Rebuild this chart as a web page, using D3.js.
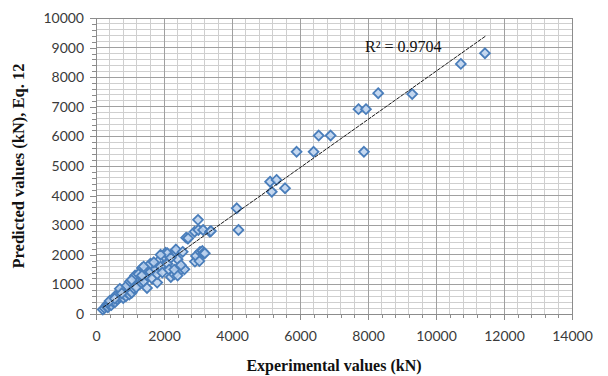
<!DOCTYPE html>
<html><head><meta charset="utf-8">
<script src="https://cdn.jsdelivr.net/npm/d3@7"></script>
<style>
html,body{margin:0;padding:0;background:#fff;}
svg{display:block;}
</style></head>
<body>
<svg id="chart" width="608" height="376"></svg>
<script>
// Data (experimental kN, predicted kN)
const experimental = [200,250,300,330,350,380,420,450,480,500,520,560,600,620,650,680,700,720,750,780,800,820,850,880,900,950,980,1000,1020,1050,1100,1120,1150,1200,1250,1300,1300,1350,1380,1400,1450,1500,1500,1550,1600,1650,1700,1750,1800,1800,1850,1900,1950,2000,2050,2100,2150,2200,2250,2300,2320,2350,2400,2450,2500,2550,2600,2650,2700,2710,2900,2910,2940,3000,3010,3040,3060,3130,3150,3160,3200,3350,3380,4140,4190,5120,5170,5310,5560,5900,6400,6550,6900,7720,7880,7940,8300,9300,10730,11440,
  900,1150,1250,1600,1700,2100,2200,2400,1400,1000,700,560,1900,2300,2500,400,550,760,1050,1180,1350];
const predicted = [150,200,260,330,230,320,380,300,450,420,480,400,560,500,620,700,580,700,650,760,540,680,820,600,740,880,660,800,950,720,1000,860,1080,940,1180,1020,1400,1550,1250,1100,1480,1300,880,1620,1420,1200,1700,1520,1060,1350,1800,1600,1400,1950,2070,1700,1500,1250,2000,1340,2100,2180,1850,1600,1500,2100,1510,2580,2550,2560,2780,1770,1960,3180,2840,1790,2100,2130,2840,2050,2050,2780,2800,3570,2840,4470,4130,4530,4250,5480,5480,6030,6030,6920,5480,6920,7460,7430,8450,8810,
  950,1300,1350,1700,1750,2050,1900,1300,1600,1100,850,600,2000,1500,1650,440,520,700,1150,900,1300];
// Linear trendline endpoints (Excel linear fit) and its R²
const trendX = [200, 11460];
const trendY = [218, 9390];
const r2Label = "R² = 0.9704";
const xTicks = [0,2000,4000,6000,8000,10000,12000,14000];
const yTicks = [0,1000,2000,3000,4000,5000,6000,7000,8000,9000,10000];
const xTitle = "Experimental values (kN)";
const yTitle = "Predicted values (kN), Eq. 12";

const svg = d3.select("#chart");
const x = d3.scaleLinear().domain([0,14000]).range([96,572]);
const y = d3.scaleLinear().domain([0,10000]).range([314,18]);

// minor grid
const g = svg.append("g");
g.selectAll("line.vmin").data(d3.range(0,14001,400)).join("line")
  .attr("x1",d=>x(d)).attr("x2",d=>x(d)).attr("y1",y(0)).attr("y2",y(10000))
  .attr("stroke","#cfcfcf").attr("stroke-width",1).attr("shape-rendering","crispEdges");
g.selectAll("line.hmin").data(d3.range(0,10001,200)).join("line")
  .attr("x1",x(0)).attr("x2",x(14000)).attr("y1",d=>y(d)).attr("y2",d=>y(d))
  .attr("stroke","#cfcfcf").attr("stroke-width",1).attr("shape-rendering","crispEdges");
// major grid
g.selectAll("line.vmaj").data(xTicks).join("line")
  .attr("x1",d=>x(d)).attr("x2",d=>x(d)).attr("y1",y(0)).attr("y2",y(10000))
  .attr("stroke","#a0a0a0").attr("stroke-width",1).attr("shape-rendering","crispEdges");
g.selectAll("line.hmaj").data(yTicks).join("line")
  .attr("x1",x(0)).attr("x2",x(14000)).attr("y1",d=>y(d)).attr("y2",d=>y(d))
  .attr("stroke","#a0a0a0").attr("stroke-width",1).attr("shape-rendering","crispEdges");

// axes
const xAxisMinor = d3.axisBottom(x).tickValues(d3.range(0,14001,400)).tickSize(4).tickFormat("");
svg.append("g").attr("transform",`translate(0,${y(0)})`).call(xAxisMinor)
  .call(s=>s.selectAll("line,path").attr("stroke","#8c8c8c").attr("shape-rendering","crispEdges"));
const yAxisMinor = d3.axisLeft(y).tickValues(d3.range(0,10001,200)).tickSize(4).tickFormat("");
svg.append("g").attr("transform",`translate(${x(0)},0)`).call(yAxisMinor)
  .call(s=>s.selectAll("line,path").attr("stroke","#8c8c8c").attr("shape-rendering","crispEdges"));
const xAxis = d3.axisBottom(x).tickValues(xTicks).tickSize(6).tickPadding(11).tickFormat(d3.format("d"));
svg.append("g").attr("transform",`translate(0,${y(0)})`).call(xAxis)
  .call(s=>{s.select(".domain").remove();
    s.selectAll("line").attr("stroke","#8c8c8c").attr("shape-rendering","crispEdges");
    s.selectAll("text").attr("font-family","Lato, 'Open Sans', sans-serif").attr("font-size",14).attr("fill","#3a3a3a");});
const yAxis = d3.axisLeft(y).tickValues(yTicks).tickSize(6).tickPadding(6).tickFormat(d3.format("d"));
svg.append("g").attr("transform",`translate(${x(0)},0)`).call(yAxis)
  .call(s=>{s.select(".domain").remove();
    s.selectAll("line").attr("stroke","#8c8c8c").attr("shape-rendering","crispEdges");
    s.selectAll("text").attr("font-family","Lato, 'Open Sans', sans-serif").attr("font-size",14).attr("fill","#3a3a3a");});
// plot border
svg.append("rect").attr("x",x(0)).attr("y",y(10000)).attr("width",x(14000)-x(0)).attr("height",y(0)-y(10000))
  .attr("fill","none").attr("stroke","#8c8c8c").attr("shape-rendering","crispEdges");

// points
const pts = experimental.map((e,i)=>({e, p: predicted[i]}));
const diamond = d3.symbol().type(d3.symbolDiamond2).size(62);
svg.append("g").selectAll("path").data(pts).join("path")
  .attr("d",diamond)
  .attr("transform",d=>`translate(${x(d.e)},${y(d.p)})`)
  .attr("fill","#bcd2ee").attr("fill-opacity",0.85)
  .attr("stroke","#4a7ebb").attr("stroke-width",1.8);

// trendline
svg.append("line")
  .attr("x1",x(trendX[0])).attr("y1",y(trendY[0]))
  .attr("x2",x(trendX[1])).attr("y2",y(trendY[1]))
  .attr("stroke","#1a1a1a").attr("stroke-width",1).attr("stroke-dasharray","4,1");

// R² label
svg.append("text").attr("x",365).attr("y",52)
  .attr("font-family","'Liberation Serif', 'Times New Roman', serif").attr("font-size",16).attr("fill","#111")
  .text(r2Label);

// titles
svg.append("text").attr("x",(x(0)+x(14000))/2).attr("y",371).attr("text-anchor","middle")
  .attr("font-family","'Liberation Serif', 'Times New Roman', serif").attr("font-weight","bold").attr("font-size",16).attr("fill","#111")
  .text(xTitle);
svg.append("text").attr("transform",`translate(24,${(y(0)+y(10000))/2}) rotate(-90)`).attr("text-anchor","middle")
  .attr("font-family","'Liberation Serif', 'Times New Roman', serif").attr("font-weight","bold").attr("font-size",16.5).attr("fill","#111")
  .text(yTitle);
</script>
</body></html>
